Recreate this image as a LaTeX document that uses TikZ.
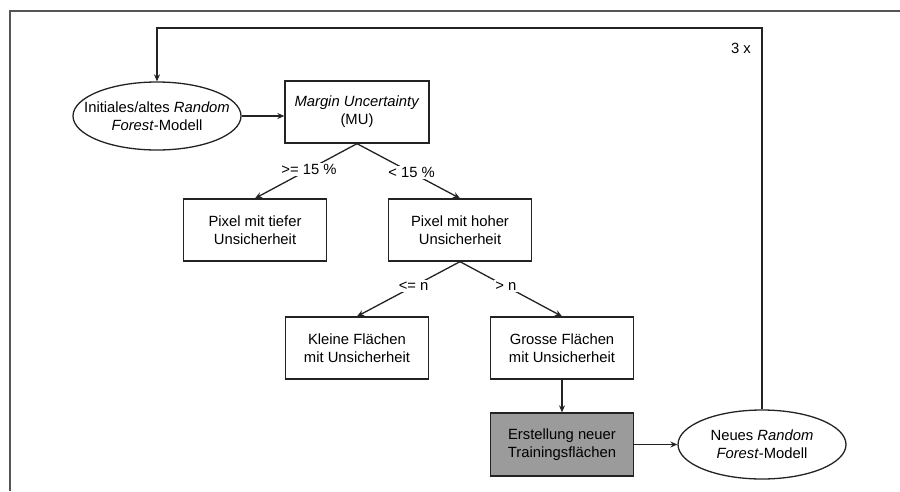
\documentclass[tikz,border=0pt]{standalone}
\usepackage{fontspec}
\setmainfont{Liberation Sans}
\usetikzlibrary{shapes.geometric,arrows.meta}
\definecolor{boxgray}{RGB}{155,155,155}
\definecolor{framegray}{RGB}{85,85,85}
\definecolor{linegray}{RGB}{35,35,35}

\begin{document}
\begin{tikzpicture}[x=1pt,y=-1pt,line width=1.3pt,>={Stealth[length=7pt,width=6pt]},font=\fontsize{14.8}{18}\selectfont]
  \tikzstyle{box}=[draw=linegray,align=center,minimum width=143pt,minimum height=62pt,inner sep=2pt]
  \tikzstyle{model}=[draw=linegray,ellipse,minimum width=168pt,minimum height=68pt,inner sep=0pt]
  \tikzstyle{cond}=[fill=white,inner sep=1.5pt]
  \tikzstyle{flow}=[draw=linegray,->]
  \useasboundingbox (0,0) rectangle (900,491);
  % outer frame
  \draw[framegray,line width=1.5pt] (10,491) -- (10,11) -- (900,11);
  % nodes
  \node[model,label={[align=center]center:Initiales/altes \textit{Random}\\\textit{Forest}-Modell}] (init) at (157,116) {};
  \node[box,minimum width=144pt] (mu) at (357,112) {\textit{Margin Uncertainty}\\(MU)};
  \node[box] (tief) at (255,230) {Pixel mit tiefer\\Unsicherheit};
  \node[box] (hoch) at (460,230) {Pixel mit hoher\\Unsicherheit};
  \node[box] (klein) at (357,348) {Kleine Flächen\\mit Unsicherheit};
  \node[box] (gross) at (562,348) {Grosse Flächen\\mit Unsicherheit};
  \node[box,fill=boxgray,minimum height=63pt] (train) at (562,444.5) {Erstellung neuer\\Trainingsflächen};
  \node[model,minimum height=69pt,label={[align=center]center:Neues \textit{Random}\\\textit{Forest}-Modell}] (neu) at (762,444.5) {};
  \node (times) at (741,48) {3 x};
  \coordinate (top) at (0,28);
  % connectors
  \draw[flow] (init.east) -- (init.east -| mu.west);
  \draw[flow] (mu.south) -- node[cond,pos=.47] {>= 15 \%} (tief.north);
  \draw[flow] (mu.south) -- node[cond,pos=.53] {< 15 \%} (hoch.north);
  \draw[flow] (hoch.south) -- node[cond,pos=.45] {<= n} (klein.north);
  \draw[flow] (hoch.south) -- node[cond,pos=.45] {> n} (gross.north);
  \draw[flow] (gross) -- (train);
  \draw[flow] (train) -- (neu);
  \draw[flow] (neu.north) |- (init.north |- top) -- (init.north);
\end{tikzpicture}
\end{document}
